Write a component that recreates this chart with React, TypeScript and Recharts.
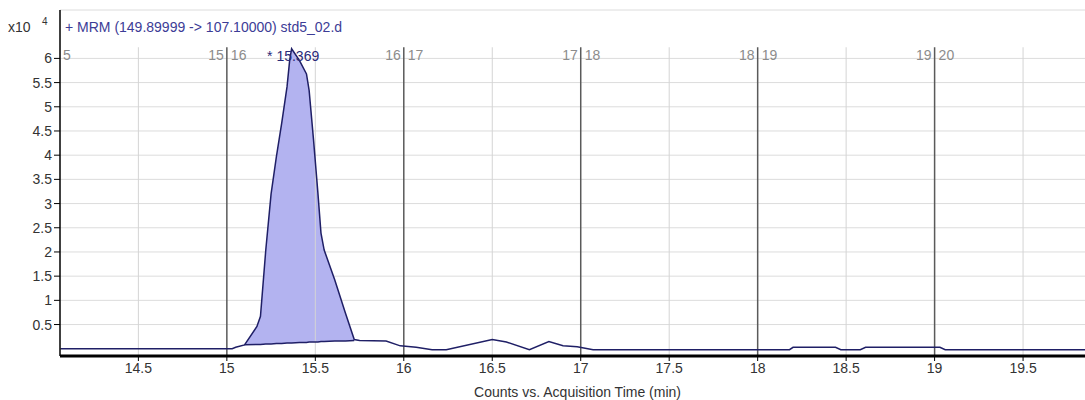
import { ComposedChart, Area, Line, XAxis, YAxis, CartesianGrid, ReferenceLine, ReferenceDot } from 'recharts';

// retention time (min)
const times = [14.06, 15.03, 15.05, 15.10, 15.17, 15.19, 15.22, 15.25, 15.28, 15.31, 15.34, 15.355, 15.366, 15.41, 15.45, 15.465, 15.49, 15.515, 15.532, 15.55, 15.61, 15.67, 15.72, 15.75, 15.9, 15.98, 16.07, 16.16, 16.24, 16.5, 16.58, 16.71, 16.82, 16.9, 16.98, 17.07, 18.18, 18.2, 18.44, 18.47, 18.58, 18.61, 19.03, 19.06, 19.85];
// counts x10^4
const counts = [0.0, 0.0, 0.03, 0.08, 0.46, 0.67, 2.04, 3.2, 3.97, 4.66, 5.41, 5.96, 6.2, 5.96, 5.68, 5.34, 4.31, 3.2, 2.39, 2.04, 1.42, 0.74, 0.19, 0.17, 0.16, 0.06, 0.03, -0.02, -0.02, 0.19, 0.14, -0.02, 0.15, 0.06, 0.04, -0.02, -0.02, 0.03, 0.03, -0.02, -0.02, 0.03, 0.03, -0.02, -0.02];
// integration baseline under the peak
const peakBase = [null, null, null, 0.08, 0.09, 0.09, 0.10, 0.10, 0.11, 0.11, 0.12, 0.12, 0.12, 0.13, 0.13, 0.14, 0.14, 0.14, 0.15, 0.15, 0.16, 0.16, 0.17, null, null, null, null, null, null, null, null, null, null, null, null, null, null, null, null, null, null, null, null, null, null];

const xTicks = [14.5, 15, 15.5, 16, 16.5, 17, 17.5, 18, 18.5, 19, 19.5];
const yTicks = [0.5, 1, 1.5, 2, 2.5, 3, 3.5, 4, 4.5, 5, 5.5, 6];
const segmentBounds = [15, 16, 17, 18, 19];
const lightLines = [14.5, 15.5, 16.5, 17.5, 18.5, 19.5];
const peakTime = 15.369;

const data = times.map((t, i) => ({ t, counts: counts[i], base: peakBase[i] }));

const FONT = '"Liberation Sans", Arial, sans-serif';
const Y_TOP = 6.23;
const Y_BOT = -0.15;

const segLabel = (n: number) => (props: any) => {
  const vb = props.viewBox;
  return (
    <g>
      <text x={vb.x - 3} y={vb.y + 13} textAnchor="end" fill="#8c8c8c" fontSize={14} fontFamily={FONT}>{n}</text>
      <text x={vb.x + 4} y={vb.y + 13} textAnchor="start" fill="#8c8c8c" fontSize={14} fontFamily={FONT}>{n + 1}</text>
    </g>
  );
};

const peakLabel = (props: any) => {
  const vb = props.viewBox;
  return (
    <text x={vb.x + 1} y={vb.y + 12} textAnchor="middle" fill="#2a2a78" fontSize={14} fontFamily={FONT}>* 15.369</text>
  );
};

export default function App() {
  return (
    <div style={{ position: 'absolute', left: 0, top: 0, width: 1085, height: 400, fontFamily: FONT, background: '#fff' }}>
      <ComposedChart width={1085} height={400} data={data} margin={{ top: 10, right: 0, left: 0, bottom: 0 }}>
        <CartesianGrid vertical={false} stroke="#dcdcdc" />
        {lightLines.map((x) => (
          <ReferenceLine key={'l' + x} segment={[{ x, y: Y_BOT }, { x, y: Y_TOP }]} stroke="#d4d4d4" strokeWidth={1} />
        ))}
        <XAxis
          type="number"
          dataKey="t"
          domain={[14.057, 19.85]}
          ticks={xTicks}
          allowDataOverflow
          height={44}
          axisLine={{ stroke: '#000', strokeWidth: 3 }}
          tickLine={{ stroke: '#000' }}
          tickSize={5}
          tick={{ fill: '#333', fontSize: 14, fontFamily: FONT }}
          label={{ value: 'Counts vs. Acquisition Time (min)', position: 'insideBottom', offset: 3, dx: 5, fill: '#333', fontSize: 14, fontFamily: FONT }}
        />
        <YAxis
          type="number"
          domain={[Y_BOT, 7.0]}
          ticks={yTicks}
          allowDataOverflow
          width={60}
          axisLine={{ stroke: '#000', strokeWidth: 1.5 }}
          tickLine={{ stroke: '#000' }}
          tickSize={6}
          tick={{ fill: '#333', fontSize: 14, fontFamily: FONT }}
        />
        <Area
          type="linear"
          dataKey={(d: any) => (d.base == null ? null : [d.base, d.counts])}
          fill="#b3b3f0"
          fillOpacity={1}
          stroke="none"
          isAnimationActive={false}
        />
        {segmentBounds.map((x) => (
          <ReferenceLine key={'s' + x} segment={[{ x, y: Y_BOT }, { x, y: Y_TOP }]} stroke="#5a5a5a" strokeWidth={1.5} label={segLabel(x)} />
        ))}
        <Line type="linear" dataKey="counts" stroke="#1f1f66" strokeWidth={1.5} dot={false} isAnimationActive={false} />
        <Line type="linear" dataKey="base" stroke="#1f1f66" strokeWidth={1.5} dot={false} connectNulls isAnimationActive={false} />
        <ReferenceDot x={peakTime} y={6.2} r={0} stroke="none" label={peakLabel} />
      </ComposedChart>
      <div style={{ position: 'absolute', left: 8, top: 19, fontSize: 14, lineHeight: '16px', color: '#333' }}>x10</div>
      <div style={{ position: 'absolute', left: 42, top: 16, fontSize: 10, lineHeight: '12px', color: '#333' }}>4</div>
      <div style={{ position: 'absolute', left: 65, top: 19, fontSize: 14, lineHeight: '16px', color: '#3c3c96', whiteSpace: 'nowrap' }}>+ MRM (149.89999 -&gt; 107.10000) std5_02.d</div>
      <div style={{ position: 'absolute', left: 63, top: 47, fontSize: 14, lineHeight: '16px', color: '#8c8c8c' }}>5</div>
    </div>
  );
}
